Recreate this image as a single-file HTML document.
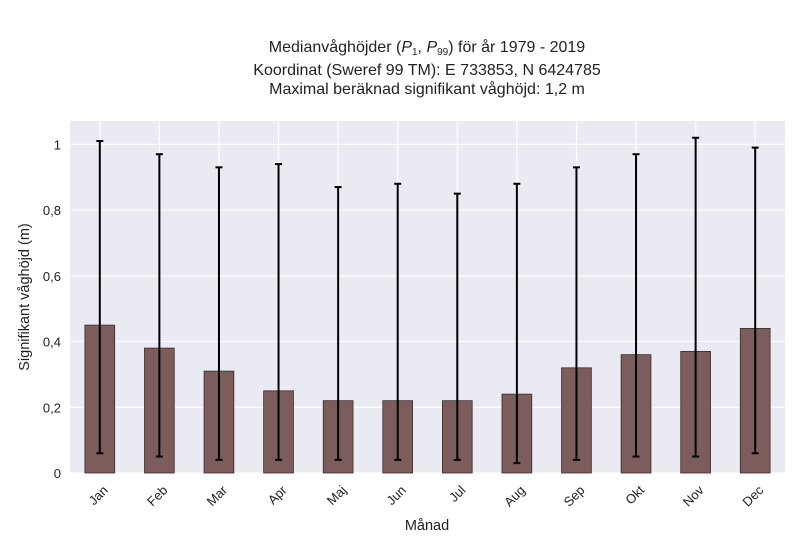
<!DOCTYPE html>
<html><head><meta charset="utf-8"><style>
body{margin:0;background:#fff;font-family:"Liberation Sans",sans-serif;}
svg text{font-family:"Liberation Sans",sans-serif;fill:#222;}
</style></head><body>
<svg width="800" height="550">
<g id="title">
<text x="427" y="52" text-anchor="middle" font-size="16">Medianvåghöjder (<tspan font-style="italic">P</tspan><tspan font-size="10" dy="3">1</tspan><tspan dy="-3">, </tspan><tspan font-style="italic">P</tspan><tspan font-size="10" dy="3">99</tspan><tspan dy="-3">) för år 1979 - 2019</tspan></text>
<text x="427" y="75" text-anchor="middle" font-size="16">Koordinat (Sweref 99 TM): E 733853, N 6424785</text>
<text x="427" y="94" text-anchor="middle" font-size="16">Maximal beräknad signifikant våghöjd: 1,2 m</text>
</g>
<rect x="70" y="121" width="715" height="352" fill="#eaeaf2"/>
<g id="grid"></g><g id="bars"></g><g id="axes"></g>
<text x="427" y="530" text-anchor="middle" font-size="14.5">Månad</text>
<text transform="translate(29,297) rotate(-90)" text-anchor="middle" font-size="14.5">Signifikant våghöjd (m)</text>
</svg>
<script>
const months=["Jan","Feb","Mar","Apr","Maj","Jun","Jul","Aug","Sep","Okt","Nov","Dec"];
const medians=[0.45,0.38,0.31,0.25,0.22,0.22,0.22,0.24,0.32,0.36,0.37,0.44];
const p1=[0.06,0.05,0.04,0.04,0.04,0.04,0.04,0.03,0.04,0.05,0.05,0.06];
const p99=[1.01,0.97,0.93,0.94,0.87,0.88,0.85,0.88,0.93,0.97,1.02,0.99];
const yTicks=[0,0.2,0.4,0.6,0.8,1];
const yTickLabels=["0","0,2","0,4","0,6","0,8","1"];
const NS="http://www.w3.org/2000/svg";
const X0=70,X1=785,Y0=473,YMAX=1.071,YT=121;
const y=v=>Y0-(v/YMAX)*(Y0-YT);
const step=(X1-X0)/months.length;
const x=i=>X0+step*(i+0.5);
function mk(t,a,p){const e=document.createElementNS(NS,t);for(const k in a)e.setAttribute(k,a[k]);p.appendChild(e);return e;}
const grid=document.getElementById('grid'),bars=document.getElementById('bars'),axes=document.getElementById('axes');
yTicks.forEach((v,i)=>{
 const l=mk('line',{x1:X0,x2:X1,y1:y(v),y2:y(v),stroke:'#fff','stroke-width':1.2},grid);
 
 
 const t=mk('text',{x:X0-9,y:y(v)+5,'text-anchor':'end','font-size':13},axes);
 t.textContent=yTickLabels[i];
 
 
});
months.forEach((m,i)=>{
 const l=mk('line',{x1:x(i),x2:x(i),y1:YT,y2:Y0,stroke:'#fff','stroke-width':1.2},grid);
 
 
 const bw=step*0.5;
 const b=mk('rect',{x:x(i)-bw/2,y:y(medians[i]),width:bw,height:Y0-y(medians[i]),fill:'#7d5c5c',stroke:'#3a2a2a','stroke-width':0.8},bars);
 
 
 const g=mk('g',{stroke:'#000','stroke-width':2},bars);
 
 
 mk('line',{x1:x(i),x2:x(i),y1:y(p1[i]),y2:y(p99[i])},g);
 mk('line',{x1:x(i)-3.5,x2:x(i)+3.5,y1:y(p1[i]),y2:y(p1[i])},g);
 mk('line',{x1:x(i)-3.5,x2:x(i)+3.5,y1:y(p99[i]),y2:y(p99[i])},g);
 const t=mk('text',{transform:`translate(${x(i)+9},${Y0+18}) rotate(-45)`,'text-anchor':'end','font-size':13},axes);
 t.textContent=m;
 
 
});
</script>
</body></html>
